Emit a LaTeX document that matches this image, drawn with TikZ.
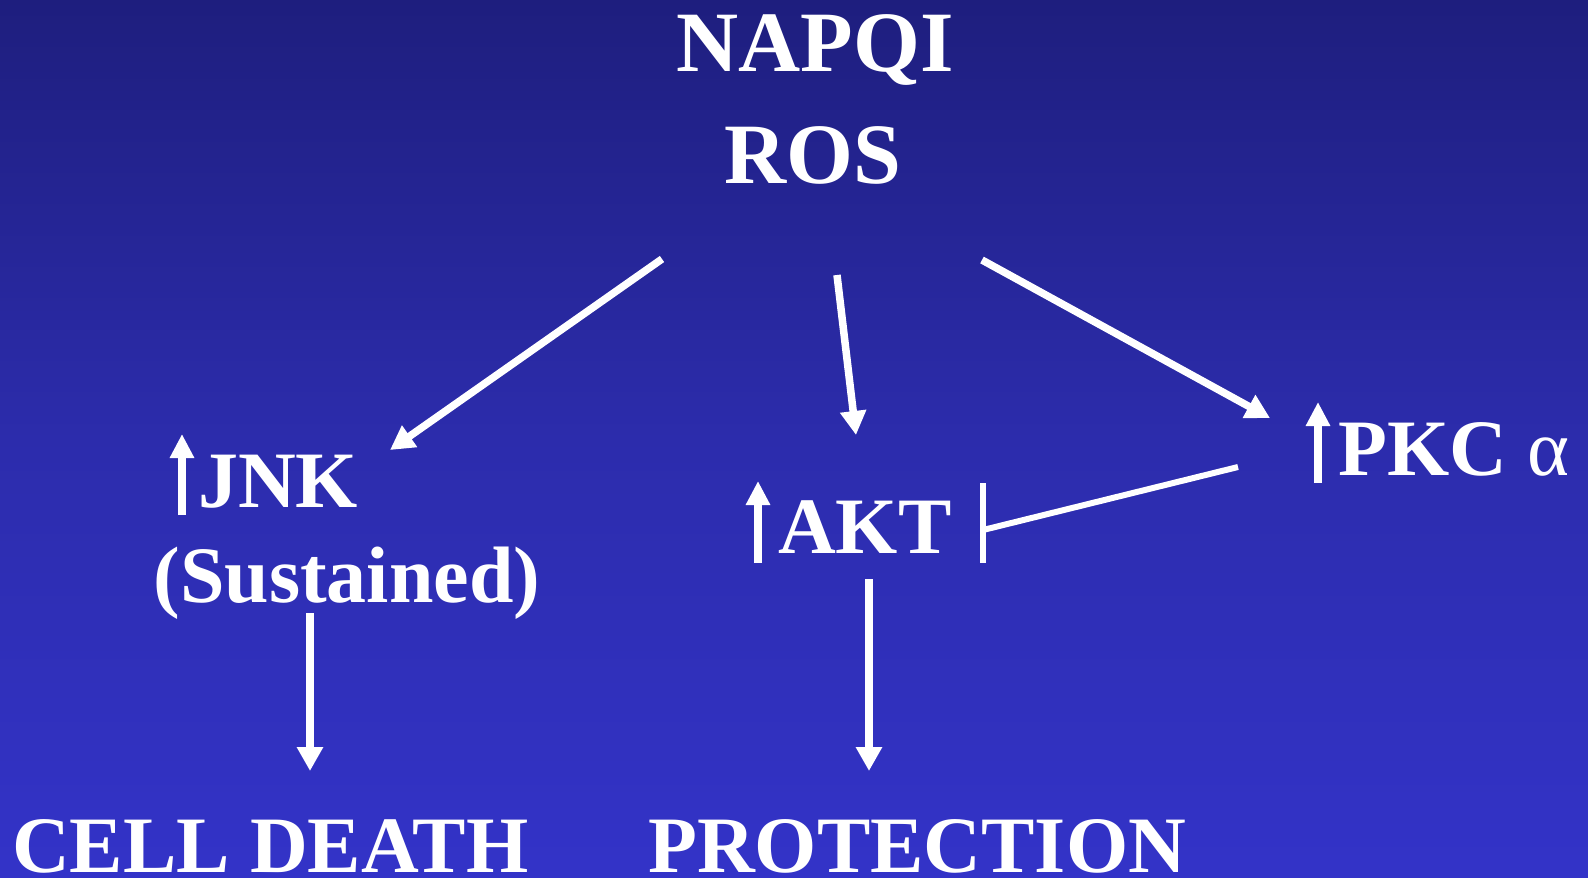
\documentclass[tikz,border=0pt]{standalone}
\usepackage{fontspec}
\setmainfont{Liberation Serif}
\usetikzlibrary{arrows.meta}
\definecolor{bgtop}{RGB}{30,30,126}
\definecolor{bgmid}{RGB}{44,44,172}
\definecolor{bgbot}{RGB}{51,51,200}
\tikzset{
  lbl/.style={text=white, inner sep=0pt, font=\fontsize{80}{96}\selectfont\bfseries},
  ttl/.style={text=white, inner sep=0pt, font=\fontsize{86}{100}\selectfont\bfseries},
  conn/.style={draw=white, line width=7.5pt, -{Triangle[length=24pt,width=25pt]}},
  uparr/.style={draw=white, line width=7.5pt, -{Triangle[length=24pt,width=23pt]}},
  inhib/.style={draw=white, line width=6pt},
}
\begin{document}
\begin{tikzpicture}[x=1pt,y=-1pt]
\shade[top color=bgtop, bottom color=bgbot, middle color=bgmid] (0,0) rectangle (1588,878);
\useasboundingbox (0,0) rectangle (1588,878);

% nodes
\node[ttl, anchor=base] (napqi) at (815,71) {NAPQI};
\node[ttl, anchor=base] (ros) at (813,183) {ROS};
\node[lbl, anchor=base west] (jnk) at (198,507) {JNK};
\node[lbl, anchor=base] (sust) at (347,602) {(Sustained)};
\node[lbl, anchor=base west] (akt) at (778,553) {AKT};
\node[lbl, anchor=base west] (pkc) at (1338,475) {PKC {\mdseries α}};
\node[lbl, anchor=base west] (death) at (12,872) {CELL DEATH};
\node[lbl, anchor=base west] (prot) at (648,872) {PROTECTION};

% up arrows (part of labels)
\draw[uparr] (182,515) -- (182,434);
\draw[uparr] (758,563) -- (758,481);
\draw[uparr] (1318,483) -- (1318,402);

% connector endpoints
\coordinate (r1) at (662,259);
\coordinate (j1) at (390,450);
\coordinate (r2) at (837,275);
\coordinate (a1) at (856,435);
\coordinate (r3) at (982,260);
\coordinate (p1) at (1270,418);
\coordinate (j2) at (310,613);
\coordinate (d1) at (310,771);
\coordinate (a2) at (869,579);
\coordinate (pr1) at (869,771);
\coordinate (p2) at (1238,467);
\coordinate (bar) at (983,530);
\coordinate (bartop) at (983,483);
\coordinate (barbot) at (983,563);

\draw[conn] (r1) -- (j1);
\draw[conn] (r2) -- (a1);
\draw[conn] (r3) -- (p1);
\draw[conn] (j2) -- (d1);
\draw[conn] (a2) -- (pr1);
\draw[inhib] (p2) -- (bar);
\draw[inhib] (bartop) -- (barbot);
\end{tikzpicture}
\end{document}
